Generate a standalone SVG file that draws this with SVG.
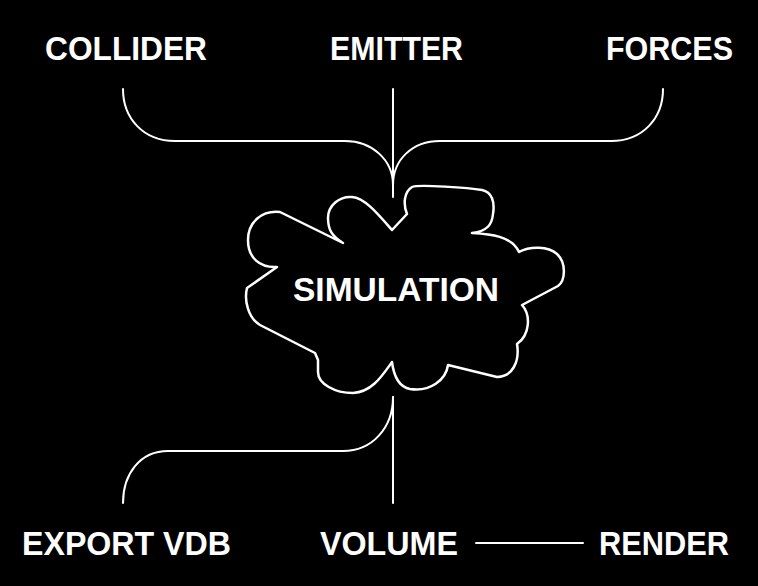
<svg xmlns="http://www.w3.org/2000/svg" width="758" height="586" viewBox="0 0 758 586">
<style>
.lbl{font-family:"Liberation Sans",Arial,sans-serif;font-weight:bold;font-size:33px;fill:#fff}
.ln{fill:none;stroke:#fff;stroke-width:2;stroke-linecap:round;stroke-linejoin:round}
.cloud{fill:#000;stroke:#fff;stroke-width:2.5;stroke-linejoin:round}
</style>
<rect x="0" y="0" width="758" height="586" fill="#000"/>
<g id="connectors">
<path class="ln" d="M123,89 C123,118 143,141 175,141 L345,141 C372,141 393,160 393,185"/>
<path class="ln" d="M663,89 C663,118 643,141 611,141 L440,141 C412,141 393,160 393,185"/>
<path class="ln" d="M393,89 L393,197"/>
<path class="ln" d="M393,397 L393,503"/>
<path class="ln" d="M393,397 C393,428 372,451 343,451 L168,451 C140,451 123,474 123,503"/>
<path class="ln" d="M476,543 L583,543"/>
</g>
<g id="simulation">
<path class="cloud" d="M392,230 L407,214 C403,204 404,192 412,187 C418,184 470,188 482,190 C492,192 495,202 493,214 C492,224 488,231 472,233 C490,234 512,236 519,252 C530,246 548,246 557,254 C566,262 566,280 558,286 L522,305 C531,315 530,335 517,344 C520,362 512,377 497,377 L448,365 C446,380 430,392 410,389 C400,387 394,378 392,362 C382,376 372,392 353,393 C335,393 318,384 318,372 L318,360 L315,353 L260,325 C248,318 244,300 247,288 L277,267 C260,268 248,258 248,240 C248,222 262,210 280,212 L343,243 C332,236 328,230 328,218 C328,205 340,196 352,197 C365,198 378,214 392,230 Z"/>
<text class="lbl" x="293" y="301" textLength="206" lengthAdjust="spacingAndGlyphs">SIMULATION</text>
</g>
<g id="collider"><text class="lbl" x="45" y="60" textLength="162" lengthAdjust="spacingAndGlyphs">COLLIDER</text></g>
<g id="emitter"><text class="lbl" x="330" y="60" textLength="133" lengthAdjust="spacingAndGlyphs">EMITTER</text></g>
<g id="forces"><text class="lbl" x="606" y="60" textLength="127" lengthAdjust="spacingAndGlyphs">FORCES</text></g>
<g id="export-vdb"><text class="lbl" x="22" y="555" textLength="209" lengthAdjust="spacingAndGlyphs">EXPORT VDB</text></g>
<g id="volume"><text class="lbl" x="320" y="555" textLength="138" lengthAdjust="spacingAndGlyphs">VOLUME</text></g>
<g id="render"><text class="lbl" x="599" y="555" textLength="130" lengthAdjust="spacingAndGlyphs">RENDER</text></g>
</svg>
